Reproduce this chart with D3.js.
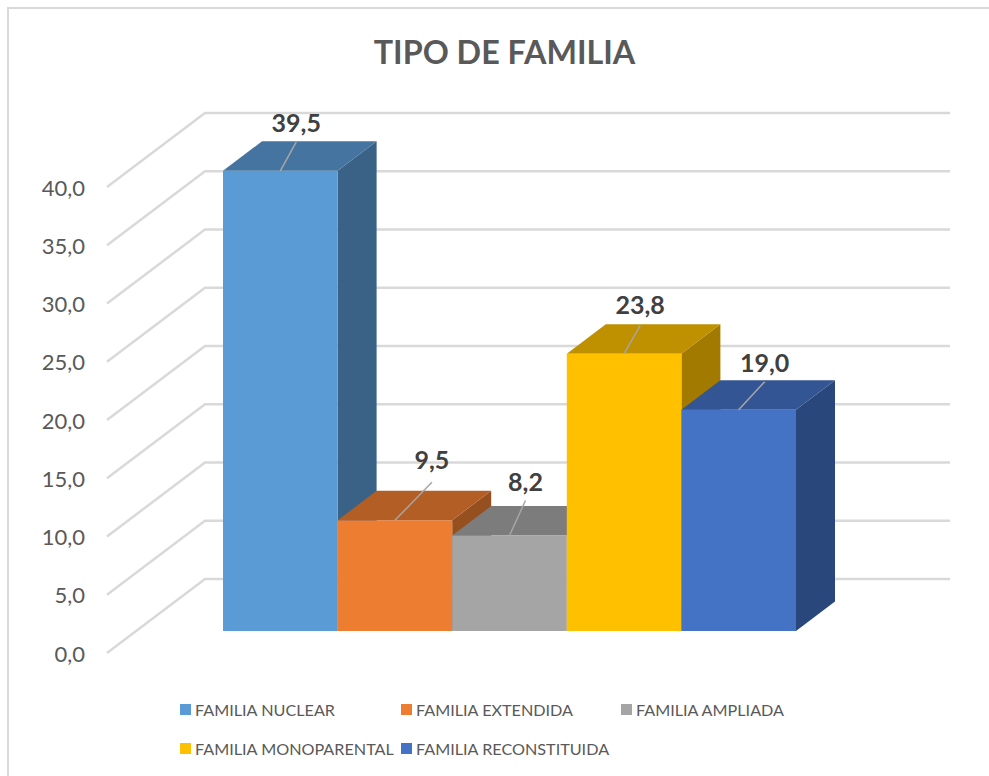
<!DOCTYPE html>
<meta charset="utf-8">
<style>
body { margin: 0; background: #fff; }
text { font-family: Lato, "Open Sans", sans-serif; }
.tick text { fill: #595959; font-size: 22px; font-family: Lato, "Open Sans", sans-serif; }
.grid { fill: none; stroke: #d9d9d9; stroke-width: 2.5px; }
.leader { stroke: #a6a6a6; stroke-width: 1.5px; }
</style>
<body>
<script src="https://d3js.org/d3.v7.min.js"></script>
<script>

// data
var categories = ["FAMILIA NUCLEAR", "FAMILIA EXTENDIDA", "FAMILIA AMPLIADA", "FAMILIA MONOPARENTAL", "FAMILIA RECONSTITUIDA"];
var values = [39.5, 9.5, 8.2, 23.8, 19.0];
var yTicks = [0, 5, 10, 15, 20, 25, 30, 35, 40];
var frontColors = ["#5b9bd5", "#ed7d31", "#a5a5a5", "#ffc000", "#4472c4"];
var topColors = ["#44749f", "#b25e24", "#7c7c7c", "#bf9000", "#335593"];
var sideColors = ["#3a6287", "#964f1e", "#696969", "#a27a00", "#2a477c"];
var title = "TIPO DE FAMILIA";

var svg = d3.select("body").append("svg")
    .attr("width", 989)
    .attr("height", 776);

// frame, only top and left show in the picture
svg.append("path")
    .attr("d", "M8,776V8H989")
    .attr("fill", "none")
    .attr("stroke", "#d9d9d9")
    .attr("stroke-width", 2);

svg.append("text")
    .attr("x", 504.5)
    .attr("y", 64)
    .attr("text-anchor", "middle")
    .attr("font-size", 32.3)
    .attr("font-weight", "bold")
    .attr("fill", "#595959")
    .text(title);

// front plane of the bars, the side wall and the back wall are offsets of it
var y = d3.scaleLinear().domain([0, 40]).range([631, 165]);
var x = d3.scaleBand().domain(categories).range([223, 796]);
var depth = {x: 39, y: -29.5};
var wallLeft = 107, wallBack = 205, wallRight = 950;
var wallDrop = 22, wallRise = -52;

var yAxisScale = y.copy().range([y(0) + wallDrop, y(40) + wallDrop]);

// gridlines run along the side wall then along the back wall
svg.append("g").selectAll("path")
    .data(yTicks)
    .join("path")
    .attr("class", "grid")
    .attr("d", function(d) {
      return d3.line()([
        [wallLeft, yAxisScale(d)],
        [wallBack, y(d) + wallRise],
        [wallRight, y(d) + wallRise]
      ]);
    });

var axis = svg.append("g")
    .attr("transform", "translate(87,1)")
    .call(d3.axisLeft(yAxisScale)
      .tickValues(yTicks)
      .tickSize(0)
      .tickPadding(2)
      .tickFormat(function(d) { return d3.format(".1f")(d).replace(".", ","); }));
axis.select(".domain").remove();

// bars, left to right so each one covers the side of the one before
var bars = svg.append("g").selectAll("g")
    .data(categories)
    .join("g");

bars.append("path")
    .attr("fill", function(d, i) { return sideColors[i]; })
    .attr("d", function(d, i) {
      var r = x(d) + x.bandwidth();
      return d3.line()([[r, y(values[i])], [r + depth.x, y(values[i]) + depth.y], [r + depth.x, y(0) + depth.y], [r, y(0)]]) + "Z";
    });

bars.append("path")
    .attr("fill", function(d, i) { return topColors[i]; })
    .attr("d", function(d, i) {
      var l = x(d), r = l + x.bandwidth(), t = y(values[i]);
      return d3.line()([[l, t], [l + depth.x, t + depth.y], [r + depth.x, t + depth.y], [r, t]]) + "Z";
    });

bars.append("rect")
    .attr("fill", function(d, i) { return frontColors[i]; })
    .attr("x", function(d) { return x(d); })
    .attr("y", function(d, i) { return y(values[i]); })
    .attr("width", x.bandwidth())
    .attr("height", function(d, i) { return y(0) - y(values[i]); });

// value labels were dragged by hand in the original, so each has its own leader
// [dx, dy, gap from leader end to text baseline]
var leaderEnd = [[16, -29, 10], [37, -38, 13], [16, -35, 9], [16, -28, 12], [26, -28, 10]];

bars.append("line")
    .attr("class", "leader")
    .attr("x1", function(d) { return x(d) + x.bandwidth() / 2; })
    .attr("y1", function(d, i) { return y(values[i]); })
    .attr("x2", function(d, i) { return x(d) + x.bandwidth() / 2 + leaderEnd[i][0]; })
    .attr("y2", function(d, i) { return y(values[i]) + leaderEnd[i][1]; });

bars.append("text")
    .attr("x", function(d, i) { return x(d) + x.bandwidth() / 2 + leaderEnd[i][0]; })
    .attr("y", function(d, i) { return y(values[i]) + leaderEnd[i][1] - leaderEnd[i][2]; })
    .attr("text-anchor", "middle")
    .attr("font-size", 25)
    .attr("font-weight", "bold")
    .attr("fill", "#404040")
    .text(function(d, i) { return d3.format(".1f")(values[i]).replace(".", ","); });

// legend
var legendX = [180, 401, 621, 180, 401];
var legendY = [704, 704, 704, 743, 743];

var legend = svg.append("g").selectAll("g")
    .data(categories)
    .join("g")
    .attr("transform", function(d, i) { return "translate(" + legendX[i] + "," + legendY[i] + ")"; });

legend.append("rect")
    .attr("width", 11)
    .attr("height", 11)
    .attr("fill", function(d, i) { return frontColors[i]; });

legend.append("text")
    .attr("x", 15)
    .attr("y", 11.5)
    .attr("font-size", 16.2)
    .attr("fill", "#595959")
    .text(function(d) { return d; });

</script>
</body>
